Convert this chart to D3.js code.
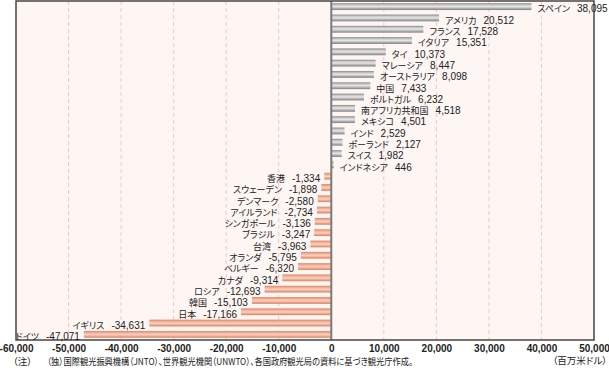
<!DOCTYPE html>
<html><head><meta charset="utf-8">
<script src="https://cdn.jsdelivr.net/npm/d3@7"></script>
<style>
html,body{margin:0;padding:0;background:#fff;}
svg{display:block;}
.jp{font-family:"Noto Sans CJK JP","Noto Sans",sans-serif;font-feature-settings:"palt";}
.num{font-family:"Liberation Sans",Arial,sans-serif;}
</style></head>
<body>
<svg id="chart" width="609" height="368"></svg>
<script>
const countries = ["スペイン","アメリカ","フランス","イタリア","タイ","マレーシア","オーストラリア","中国","ポルトガル","南アフリカ共和国","メキシコ","インド","ポーランド","スイス","インドネシア","香港","スウェーデン","デンマーク","アイルランド","シンガポール","ブラジル","台湾","オランダ","ベルギー","カナダ","ロシア","韓国","日本","イギリス","ドイツ"];
const values = [38095,20512,17528,15351,10373,8447,8098,7433,6232,4518,4501,2529,2127,1982,446,-1334,-1898,-2580,-2734,-3136,-3247,-3963,-5795,-6320,-9314,-12693,-15103,-17166,-34631,-47071];
const tickValues = [-60000,-50000,-40000,-30000,-20000,-10000,0,10000,20000,30000,40000,50000];
const unitLabel = "（百万米ドル）";
const noteLabel = "（注）";
const noteText = "（独）国際観光振興機構（JNTO）、世界観光機関（UNWTO）、各国政府観光局の資料に基づき観光庁作成。";

const fmt = d3.formatLocale({decimal:".",thousands:",",grouping:[3],currency:["",""],minus:"-"}).format(",");
const data = countries.map((c,i)=>({name:c,value:values[i]}));

const svg = d3.select("#chart");
const L=16, R=594, T=1, B=340;
const x = d3.scaleLinear().domain([-60000,50000]).range([L,R]);
const y = d3.scaleBand().domain(countries).range([T,B]).paddingInner(0.4).paddingOuter(0.2);

const defs = svg.append("defs");
const g1 = defs.append("linearGradient").attr("id","gray").attr("x1",0).attr("y1",0).attr("x2",0).attr("y2",1);
[[0,"#858585"],[0.25,"#c8c8c8"],[0.5,"#e6e6e6"],[0.75,"#b0b0b0"],[1,"#808080"]].forEach(s=>g1.append("stop").attr("offset",s[0]).attr("stop-color",s[1]));
const g2 = defs.append("linearGradient").attr("id","salmon").attr("x1",0).attr("y1",0).attr("x2",0).attr("y2",1);
[[0,"#e08466"],[0.3,"#f2b49c"],[0.55,"#f8d2c2"],[0.8,"#eb9f84"],[1,"#dd7e60"]].forEach(s=>g2.append("stop").attr("offset",s[0]).attr("stop-color",s[1]));

// plot background
svg.append("rect").attr("x",L).attr("y",T).attr("width",R-L).attr("height",B-T).attr("fill","#fdf6f3");

// grid
svg.append("g").selectAll("line").data(tickValues.filter(t=>t!==0 && t!==-60000 && t!==50000)).join("line")
  .attr("x1",d=>x(d)).attr("x2",d=>x(d)).attr("y1",T).attr("y2",B)
  .attr("stroke","#f0c6cc").attr("stroke-width",1).attr("stroke-dasharray","4,3");

// bars
svg.append("g").selectAll("rect").data(data).join("rect")
  .attr("x",d=>x(Math.min(0,d.value))).attr("y",d=>y(d.name))
  .attr("width",d=>Math.abs(x(d.value)-x(0))).attr("height",y.bandwidth())
  .attr("fill",d=>d.value>=0?"url(#gray)":"url(#salmon)");

// zero line
svg.append("line").attr("x1",x(0)).attr("x2",x(0)).attr("y1",T).attr("y2",B).attr("stroke","#7a7a7a").attr("stroke-width",2);

// frame
svg.append("rect").attr("x",L).attr("y",T).attr("width",R-L).attr("height",B-T).attr("fill","none").attr("stroke","#4a4444").attr("stroke-width",1.5);

// labels
const lab = svg.append("g").selectAll("text").data(data).join("text")
  .attr("y",d=>y(d.name)+y.bandwidth()/2).attr("dy","0.36em")
  .attr("x",d=>d.value>=0? x(d.value)+6 : x(d.value)-4)
  .attr("text-anchor",d=>d.value>=0?"start":"end")
  .attr("fill","#222");
lab.append("tspan").attr("class","jp").attr("font-size",9).text(d=>d.name);
lab.append("tspan").attr("class","num").attr("font-size",10).attr("dx",7).text(d=>fmt(d.value));

// axis
const ax = svg.append("g").attr("transform",`translate(0,${B})`)
  .call(d3.axisBottom(x).tickValues(tickValues).tickSize(0).tickPadding(5).tickFormat(d=>fmt(d)));
ax.select(".domain").remove();
ax.selectAll("text").attr("font-family","Liberation Sans, Arial, sans-serif").attr("font-size",10).attr("fill","#222").attr("font-weight","bold").attr("stroke","none");

// footnote
svg.append("text").attr("class","jp").attr("x",13).attr("y",365).attr("font-size",9.5).attr("fill","#222").text(noteLabel);
svg.append("text").attr("class","jp").attr("x",47).attr("y",365).attr("font-size",9.5).attr("fill","#222")
  .attr("textLength",366).attr("lengthAdjust","spacingAndGlyphs").text(noteText);
svg.append("text").attr("class","jp").attr("x",607).attr("y",364).attr("text-anchor","end").attr("font-size",9.5).attr("fill","#222").text(unitLabel);
</script>
</body></html>
